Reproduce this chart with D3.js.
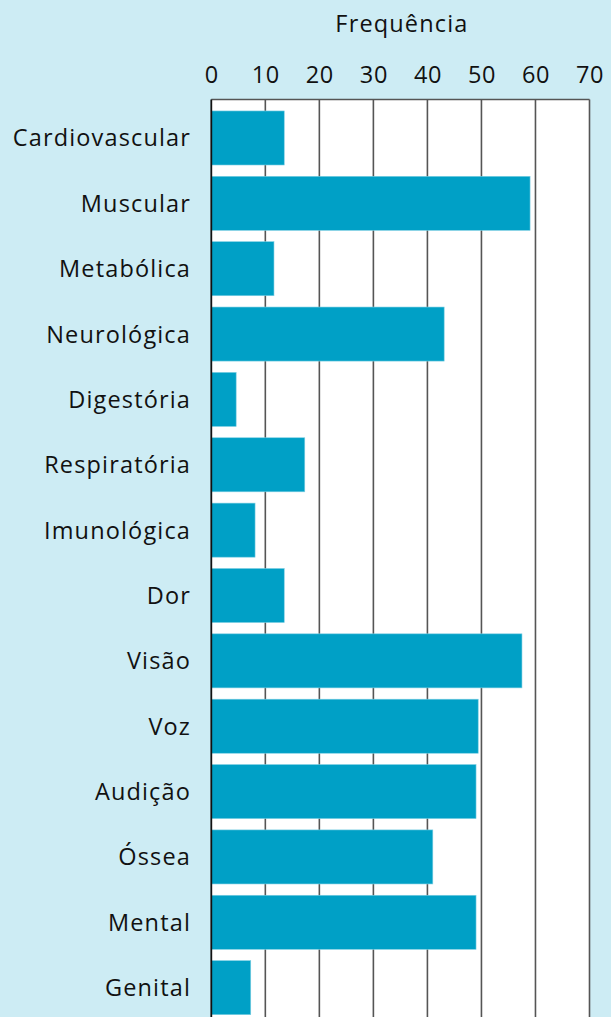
<!DOCTYPE html>
<html><head><meta charset="utf-8">
<script src="https://cdn.jsdelivr.net/npm/d3@7"></script>
<style>html,body{margin:0;padding:0;background:#cdecf4;}svg{display:block;}</style>
</head><body>
<script>
const categories = ["Cardiovascular","Muscular","Metabólica","Neurológica","Digestória","Respiratória","Imunológica","Dor","Visão","Voz","Audição","Óssea","Mental","Genital"];
const values = [13.5, 59, 11.6, 43.1, 4.6, 17.3, 8.1, 13.5, 57.5, 49.4, 49, 41, 49, 7.3];
const tickValues = [0,10,20,30,40,50,60,70];
const axisTitle = "Frequência";

const W = 611, H = 1017;
const font = "'Open Sans', sans-serif";
const fs = 23.5;
const ls = 1.15;
const svg = d3.select("body").append("svg").attr("width", W).attr("height", H);
svg.append("rect").attr("width", W).attr("height", H).attr("fill", "#cdecf4");

const x = d3.scaleLinear().domain([0, 70]).range([211.3, 589.5]);
const y = d3.scaleBand().domain(categories).range([105.3, 105.3 + 14 * 65.36]).paddingInner(0.173).paddingOuter(0.0865);

const plotTop = 99.5;
svg.append("rect").attr("x", x(0)).attr("y", plotTop).attr("width", x(70) - x(0)).attr("height", H - plotTop + 5).attr("fill", "#ffffff");

// gridlines
svg.append("g").selectAll("line").data(tickValues.slice(1)).join("line")
  .attr("x1", d => x(d)).attr("x2", d => x(d)).attr("y1", plotTop).attr("y2", H + 2)
  .attr("stroke", "#555").attr("stroke-width", 1.6);
// top border
svg.append("line").attr("x1", x(0)).attr("x2", x(70)).attr("y1", plotTop).attr("y2", plotTop)
  .attr("stroke", "#555").attr("stroke-width", 1.6);

// bars
svg.append("g").selectAll("rect").data(categories).join("rect")
  .attr("x", x(0)).attr("y", d => y(d))
  .attr("width", (d, i) => x(values[i]) - x(0)).attr("height", y.bandwidth())
  .attr("fill", "#00a0c6").attr("stroke", "#7fcfe3").attr("stroke-width", 0.6);

// left axis line
svg.append("line").attr("x1", x(0)).attr("x2", x(0)).attr("y1", plotTop).attr("y2", H + 2)
  .attr("stroke", "#111").attr("stroke-width", 1.8);

// top axis labels
const ax = svg.append("g").attr("transform", "translate(0,83)")
  .call(d3.axisTop(x).tickValues(tickValues).tickSize(0).tickPadding(0));
ax.select(".domain").remove();
ax.selectAll("text").attr("font-family", font).attr("font-size", fs).attr("fill", "#111").attr("dy", 0)
  .attr("letter-spacing", 0.6);

svg.append("text").attr("x", (x(0) + x(70)) / 2 + 1.5).attr("y", 31.5).attr("text-anchor", "middle")
  .attr("font-family", font).attr("font-size", fs).attr("fill", "#111").attr("letter-spacing", ls).text(axisTitle);

// category labels
const yl = svg.append("g").attr("transform", "translate(191,0)")
  .call(d3.axisLeft(y).tickSize(0).tickPadding(0));
yl.select(".domain").remove();
yl.selectAll("text").attr("font-family", font).attr("font-size", fs).attr("fill", "#111").attr("dy", "0.36em")
  .attr("letter-spacing", ls);
</script>
</body></html>
